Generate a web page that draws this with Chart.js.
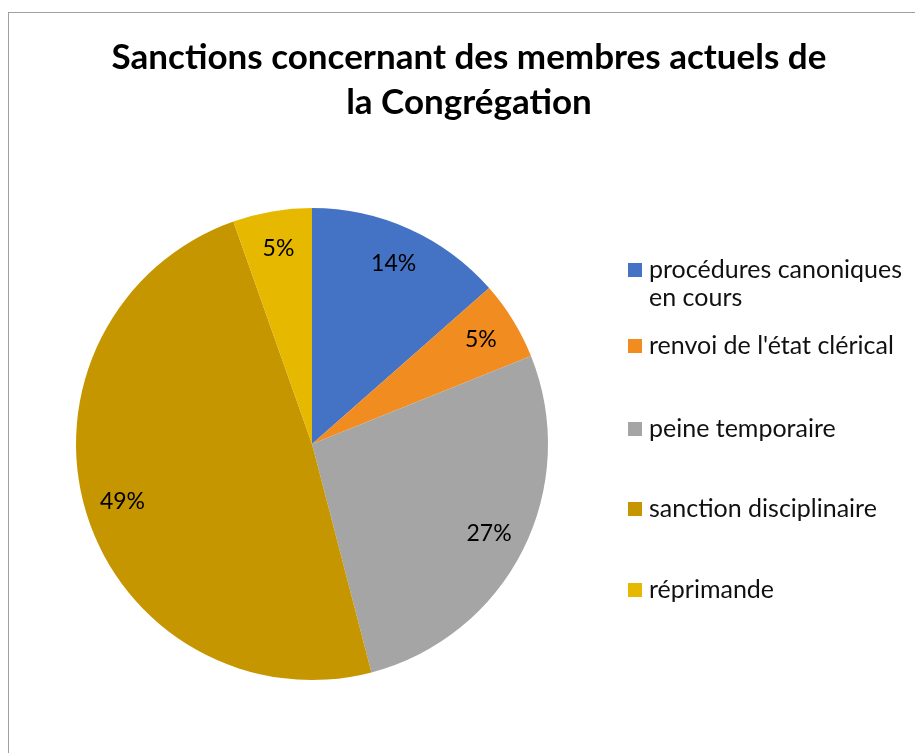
<!DOCTYPE html>
<html lang="fr">
<head>
  <meta charset="UTF-8" />
  <title>Sanctions</title>
  <script src="https://cdn.jsdelivr.net/npm/chart.js"></script>
  <style>
    html, body { margin: 0; padding: 0; background: #fff; overflow: hidden; }
    .frame {
      position: absolute; left: 8px; top: 12px; width: 1000px; height: 800px;
      border-left: 1px solid #a0a0a0; border-top: 1px solid #a0a0a0;
    }
    #pie { position: absolute; left: 0; top: 0; }
  </style>
</head>
<body>
  <div class="frame"></div>
  <canvas id="pie" width="938" height="753" style="width:938px;height:753px"></canvas>

  <script>
    // data
    const title = ['Sanctions concernant des membres actuels de', 'la Congrégation'];
    const categories = [
      'procédures canoniques en cours',
      "renvoi de l'état clérical",
      'peine temporaire',
      'sanction disciplinaire',
      'réprimande'
    ];
    const counts = [5, 2, 10, 18, 2];
    const sliceColors = ['#4472c4', '#f08c20', '#a5a5a5', '#c59600', '#e6b900'];

    const FONT = 'Lato, "Open Sans", sans-serif';

    // title centred over the whole canvas (the pie sits off to the left)
    const topTitle = {
      id: 'topTitle',
      afterDraw(chart, args, opts) {
        const ctx = chart.ctx;
        ctx.save();
        ctx.font = 'bold ' + opts.size + 'px ' + FONT;
        ctx.fillStyle = '#000';
        ctx.textAlign = 'center';
        ctx.textBaseline = 'middle';
        title.forEach((t, i) => ctx.fillText(t, chart.width / 2, opts.y + i * opts.lineHeight));
        ctx.restore();
      }
    };

    // percentage labels inside the slices
    const pctLabels = {
      id: 'pctLabels',
      afterDatasetsDraw(chart) {
        const ctx = chart.ctx;
        const meta = chart.getDatasetMeta(0);
        const total = counts.reduce((a, b) => a + b, 0);
        ctx.save();
        ctx.font = '23px ' + FONT;
        ctx.fillStyle = '#000';
        ctx.textAlign = 'center';
        ctx.textBaseline = 'middle';
        meta.data.forEach((arc, i) => {
          const p = arc.getProps(['x', 'y', 'startAngle', 'endAngle', 'outerRadius'], true);
          const mid = (p.startAngle + p.endAngle) / 2;
          const r = p.outerRadius * 0.84;
          ctx.fillText(Math.round(counts[i] / total * 100) + '%',
            p.x + Math.cos(mid) * r, p.y + Math.sin(mid) * r);
        });
        ctx.restore();
      }
    };

    // legend on the right, wrapped like the original
    const sideLegend = {
      id: 'sideLegend',
      afterDraw(chart, args, opts) {
        const ctx = chart.ctx;
        ctx.save();
        ctx.font = '25px ' + FONT;
        ctx.textBaseline = 'middle';
        categories.forEach((label, i) => {
          const y = opts.rows[i];
          ctx.fillStyle = sliceColors[i];
          ctx.fillRect(opts.boxX, y - 7, 14, 14);
          // word wrap
          const words = label.split(' ');
          const lines = [];
          let cur = '';
          words.forEach(w => {
            const t = cur ? cur + ' ' + w : w;
            if (ctx.measureText(t).width > opts.maxWidth && cur) { lines.push(cur); cur = w; }
            else cur = t;
          });
          lines.push(cur);
          ctx.fillStyle = '#111';
          lines.forEach((ln, k) => ctx.fillText(ln, opts.textX, y + k * 28));
        });
        ctx.restore();
      }
    };

    new Chart(document.getElementById('pie'), {
      type: 'pie',
      data: {
        labels: categories,
        datasets: [{
          data: counts,
          backgroundColor: sliceColors,
          borderWidth: 0
        }]
      },
      options: {
        responsive: false,
        animation: false,
        layout: { padding: { left: 76, right: 390, top: 208, bottom: 73 } },
        plugins: {
          legend: { display: false },
          tooltip: { enabled: false },
          title: { display: false },
          topTitle: { size: 35, y: 58, lineHeight: 45 },
          sideLegend: { boxX: 628, textX: 649, maxWidth: 262, rows: [270, 346, 429, 509, 590] }
        }
      },
      plugins: [pctLabels, sideLegend, topTitle]
    });
  </script>
</body>
</html>
